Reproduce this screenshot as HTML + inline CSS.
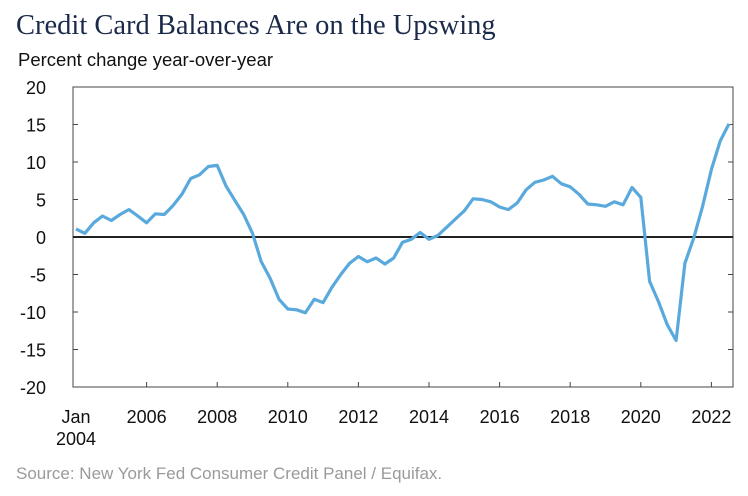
<!DOCTYPE html>
<html><head><meta charset="utf-8"><style>
body{margin:0;background:#fff;width:748px;height:491px;overflow:hidden;font-family:"Liberation Sans",sans-serif}
</style></head><body>
<svg width="748" height="491" xmlns="http://www.w3.org/2000/svg" id="chart">
<text x="16" y="34" font-family="Liberation Serif,serif" font-size="28.5" fill="#1b2a4a">Credit Card Balances Are on the Upswing</text>
<text x="18" y="66" font-size="18.5" fill="#111">Percent change year-over-year</text>
<text x="16" y="479" font-size="17" fill="#9a9a9a">Source: New York Fed Consumer Credit Panel / Equifax.</text>
<g id="axes"></g>
<g id="series"></g>
</svg>
<script>
const yTicks=[20,15,10,5,0,-5,-10,-15,-20];
const xTickYears=[2006,2008,2010,2012,2014,2016,2018,2020,2022];
const startYear=2004;
const values=[1.07,0.5,1.9,2.8,2.2,3.0,3.65,2.8,1.9,3.1,3.0,4.2,5.7,7.8,8.3,9.4,9.55,6.8,4.9,3.0,0.5,-3.3,-5.5,-8.3,-9.6,-9.7,-10.1,-8.3,-8.75,-6.7,-5.0,-3.5,-2.6,-3.3,-2.8,-3.6,-2.8,-0.7,-0.3,0.6,-0.3,0.2,1.3,2.4,3.5,5.1,5.0,4.7,4.0,3.65,4.55,6.3,7.3,7.6,8.1,7.1,6.7,5.7,4.4,4.3,4.1,4.7,4.3,6.6,5.3,-5.9,-8.6,-11.7,-13.8,-3.5,-0.1,4.1,9.0,12.8,15.1];
const L=73,R=733,T=87,B=387;
const y=v=>T+(20-v)/40*(B-T);
const x=yr=>76+(yr-2004)*35.3;
const NS='http://www.w3.org/2000/svg';
const ax=document.getElementById('axes');
function mk(tag,attrs,parent){const e=document.createElementNS(NS,tag);for(const k in attrs)e.setAttribute(k,attrs[k]);parent.appendChild(e);return e;}
const frame=mk('rect',{x:L,y:T,width:R-L,height:B-T,fill:'none',stroke:'#444','stroke-width':1},ax);


yTicks.forEach(v=>{
  const t=mk('line',{x1:L,x2:L+5,y1:y(v),y2:y(v),stroke:'#444'},ax);
  
  
  const t2=mk('line',{x1:R-5,x2:R,y1:y(v),y2:y(v),stroke:'#444'},ax);
  
  
  const lb=mk('text',{x:46,y:y(v)+7,'text-anchor':'end','font-size':18,fill:'#111'},ax);
  lb.textContent=v;
  
  
});
xTickYears.forEach(yr=>{
  const t=mk('line',{x1:x(yr),x2:x(yr),y1:B,y2:B-5,stroke:'#444'},ax);
  
  
  const lb=mk('text',{x:x(yr),y:423,'text-anchor':'middle','font-size':18,fill:'#111'},ax);
  lb.textContent=yr;
  
  
});
const j1=mk('text',{x:x(2004),y:423,'text-anchor':'middle','font-size':18,fill:'#111'},ax);
j1.textContent='Jan';


const j2=mk('text',{x:x(2004),y:445,'text-anchor':'middle','font-size':18,fill:'#111'},ax);
j2.textContent='2004';


const zero=mk('line',{x1:L,x2:R,y1:y(0),y2:y(0),stroke:'#222','stroke-width':2},ax);


const pts=values.map((v,i)=>x(startYear+i/4).toFixed(1)+','+y(v).toFixed(1)).join(' ');
const pl=mk('polyline',{points:pts,fill:'none',stroke:'#5aa9dc','stroke-width':3.2,'stroke-linejoin':'round'},document.getElementById('series'));


</script>
</body></html>
